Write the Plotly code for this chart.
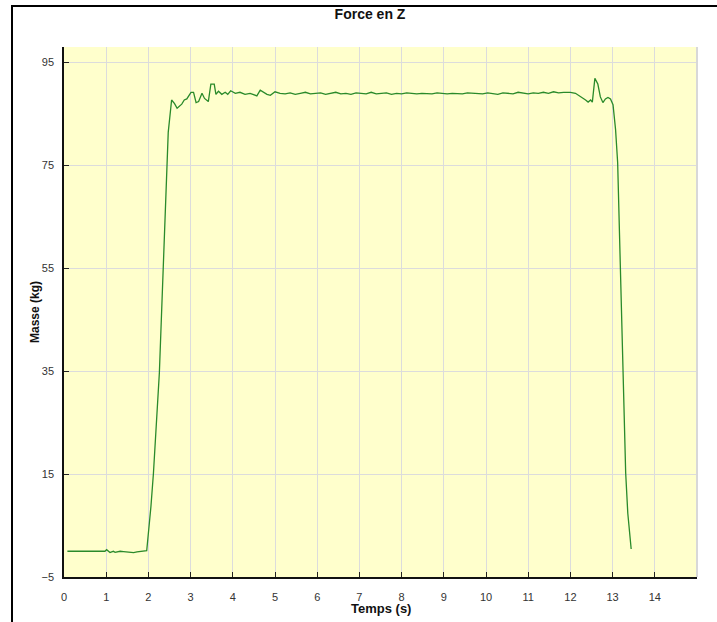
import plotly.graph_objects as go

# ---- data ----
temps_s = [
    0.08, 0.3, 0.5, 0.7, 0.9, 0.97, 1.01, 1.05, 1.09, 1.13, 1.17, 1.21, 1.25, 1.33, 1.41,
    1.49, 1.57, 1.65, 1.73, 1.80, 1.88, 1.96,
    2.06, 2.12, 2.26, 2.36, 2.44, 2.47, 2.55, 2.62, 2.68, 2.79, 2.85, 2.91, 3.01, 3.07,
    3.13, 3.19, 3.27, 3.33, 3.42, 3.48, 3.56, 3.60, 3.66, 3.74, 3.82, 3.88, 3.95, 4.06,
    4.17, 4.29, 4.41, 4.57, 4.65, 4.72, 4.81, 4.89, 5.00,
    5.12, 5.24, 5.36, 5.48, 5.60, 5.72, 5.84, 5.96, 6.08, 6.20, 6.32, 6.44, 6.56, 6.68,
    6.80, 6.92, 7.04, 7.16, 7.28, 7.40, 7.52, 7.64, 7.76, 7.88, 8.00, 8.12, 8.24, 8.36,
    8.48, 8.60, 8.72, 8.84, 8.96, 9.08, 9.20, 9.32, 9.44, 9.56, 9.68, 9.80, 9.92, 10.04,
    10.16, 10.28, 10.40, 10.52, 10.64, 10.76, 10.88, 11.00, 11.12, 11.24, 11.36, 11.48,
    11.60, 11.72, 11.84, 12.00,
    12.12, 12.24, 12.36, 12.42, 12.48, 12.52, 12.58, 12.65, 12.71, 12.77, 12.83, 12.89,
    12.95, 13.01, 13.07, 13.12, 13.18, 13.24, 13.31, 13.36, 13.44,
]
masse_kg = [
    0.0, 0.0, 0.0, 0.0, 0.0, 0.0, 0.3, 0.1, -0.25, -0.1, 0.0, -0.2, -0.1, 0.0, -0.05,
    -0.1, -0.2, -0.25, -0.1, -0.05, 0.05, 0.1,
    8.7, 15.2, 34.7, 55.4, 75.5, 81.4, 87.7, 87.0, 86.1, 86.9, 87.7, 87.9, 89.2, 89.2,
    87.2, 87.4, 89.0, 88.0, 87.4, 90.8, 90.8, 88.8, 89.4, 88.8, 89.2, 88.8, 89.5, 89.0,
    89.2, 88.8, 89.0, 88.5, 89.6, 89.2, 88.8, 88.6, 89.3,
    89.0, 88.9, 89.1, 88.8, 89.0, 89.2, 88.9, 89.0, 89.1, 88.8, 89.0, 89.2, 88.9, 89.0,
    88.8, 89.1, 89.0, 88.9, 89.2, 88.9, 89.0, 89.1, 88.8, 89.0, 88.9, 89.1, 89.0, 88.9,
    89.0, 89.0, 88.9, 89.1, 89.0, 88.9, 89.0, 89.0, 88.9, 89.1, 89.0, 89.0, 88.9, 89.1,
    89.0, 88.8, 89.1, 89.0, 88.9, 89.2, 89.0, 88.9, 89.1, 89.0, 89.2, 89.0,
    89.3, 89.1, 89.2, 89.2,
    89.0, 88.4, 87.7, 87.3, 87.7, 87.3, 91.9, 90.8, 88.3, 87.2, 87.9, 88.2,
    87.9, 86.8, 82.0, 75.5, 55.4, 34.7, 15.2, 7.4, 0.45,
]
x_ticks = list(range(0, 15))
y_ticks = [-5, 15, 35, 55, 75, 95]

FONT = "Liberation Sans, Arial, sans-serif"

# plot area in pixels: left 64, right 697, top 47, bottom 577
L, R, T, B = 64, 697, 47, 577
W, H = 717, 622
pw, ph = R - L, B - T

def px_x(px):
    return (px - L) / pw

def px_y(py):
    return (B - py) / ph

fig = go.Figure()
fig.add_trace(go.Scatter(
    x=temps_s, y=masse_kg, mode="lines",
    line=dict(color="#2a8a2a", width=1.3),
    showlegend=False, hoverinfo="x+y",
))

fig.update_layout(
    width=W, height=H,
    margin=dict(l=L, r=W - R, t=T, b=H - B, pad=0),
    paper_bgcolor="white",
    plot_bgcolor="#ffffcc",
    font=dict(family=FONT, size=11, color="#333333"),
    title=dict(
        text="<b>Force en Z</b>", font=dict(family=FONT, size=14, color="#111111"),
        x=px_x(370), xref="paper", xanchor="center",
        y=1 - 14 / H, yref="container", yanchor="middle",
    ),
    xaxis=dict(
        range=[0, 15], tickmode="array", tickvals=x_ticks,
        ticktext=[str(v) for v in x_ticks],
        ticks="inside", ticklen=5, tickcolor="#222222", tickwidth=1,
        showgrid=True, gridcolor="#dcdcdc", gridwidth=1,
        showline=True, linecolor="#111111", linewidth=1.5,
        zeroline=False, ticklabelstandoff=9,
        tickfont=dict(family=FONT, size=11, color="#333333"),
    ),
    yaxis=dict(
        range=[-5, 98], tickmode="array", tickvals=y_ticks,
        ticks="inside", ticklen=5, tickcolor="#222222", tickwidth=1,
        showgrid=True, gridcolor="#dcdcdc", gridwidth=1,
        showline=True, linecolor="#111111", linewidth=1.5,
        zeroline=False, ticklabelstandoff=6,
        tickfont=dict(family=FONT, size=11, color="#333333"),
    ),
    annotations=[
        dict(text="<b>Temps (s)</b>", xref="paper", yref="paper",
             x=0.5, y=-(608 - B) / ph, xanchor="center", yanchor="middle",
             showarrow=False, font=dict(family=FONT, size=13, color="#111111")),
        dict(text="<b>Masse (kg)</b>", xref="paper", yref="paper",
             x=px_x(35), y=0.5, xanchor="center", yanchor="middle", textangle=-90,
             showarrow=False, font=dict(family=FONT, size=12, color="#111111")),
    ],
    shapes=[
        # right border of plot area (light grey)
        dict(type="line", xref="paper", yref="paper", x0=1, x1=1, y0=0, y1=1,
             line=dict(color="#d8d8d8", width=2)),
        # outer black frame
        dict(type="rect", xref="paper", yref="paper",
             x0=px_x(12), x1=px_x(W + 20), y0=px_y(6), y1=px_y(H + 20),
             line=dict(color="black", width=2), fillcolor="rgba(0,0,0,0)", layer="below"),
    ],
)

fig.write_html("out.html")
